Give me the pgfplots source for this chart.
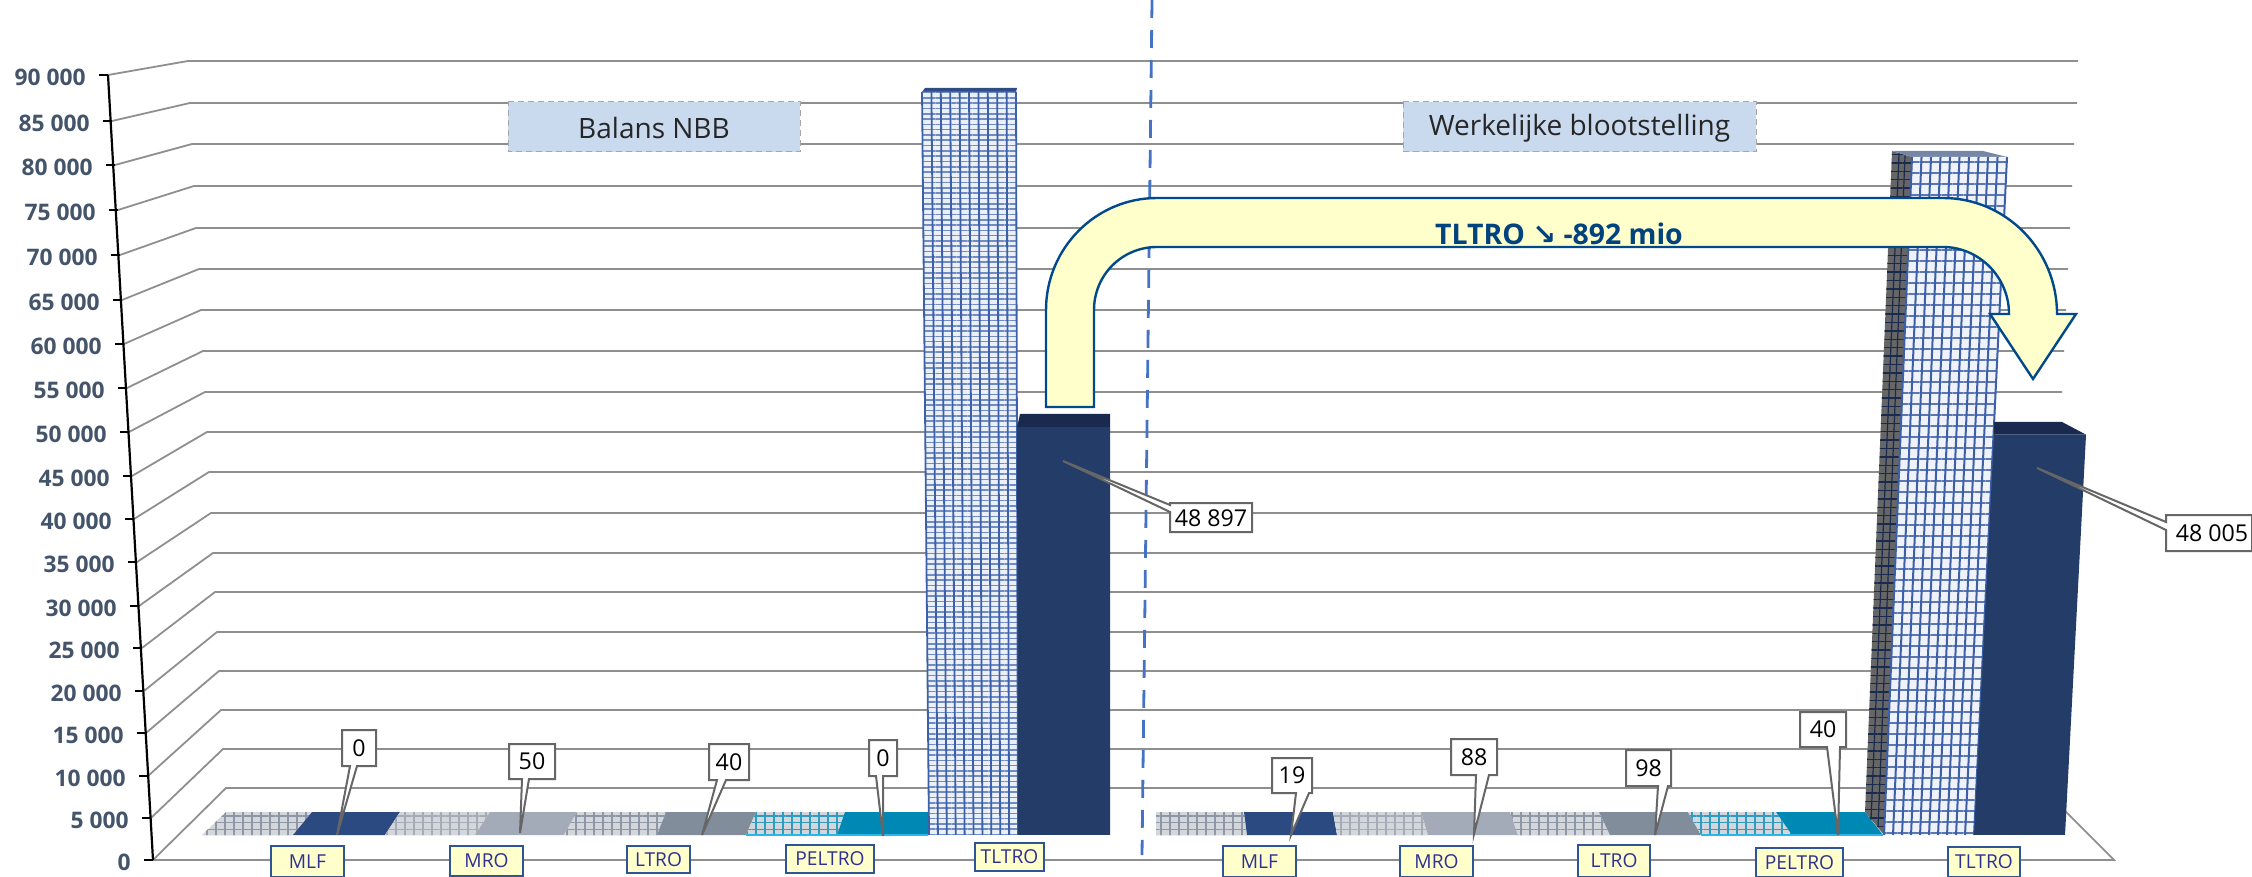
\documentclass[border=0pt]{standalone}
\usepackage{fontspec}
\setmainfont{Open Sans}
\newfontfamily\symfont{DejaVu Sans}
\usepackage{pgfplots}
\pgfplotsset{compat=1.18}
\usetikzlibrary{patterns.meta}
\definecolor{gridc}{HTML}{8F8F8F}
\definecolor{tickc}{HTML}{44546A}
\definecolor{mlfc}{HTML}{2B4A82}
\definecolor{mroc}{HTML}{A3ABB8}
\definecolor{ltroc}{HTML}{828D9B}
\definecolor{peltroc}{HTML}{0088B5}
\definecolor{peltrol}{HTML}{29B6E8}
\definecolor{darkbar}{HTML}{243C68}
\definecolor{darktop}{HTML}{1A2A4E}
\definecolor{meshc}{HTML}{3C5FA8}
\definecolor{meshl}{HTML}{6F8CC6}
\definecolor{arrowf}{HTML}{FFFFCC}
\definecolor{arrowd}{HTML}{004A8C}
\definecolor{catb}{HTML}{2F5597}
\definecolor{catt}{HTML}{2E3192}
\definecolor{titlef}{HTML}{C9D9EE}
\definecolor{dashc}{HTML}{4472C4}
\definecolor{callb}{HTML}{666666}
\definecolor{hatchg}{HTML}{8E97A5}
\definecolor{hatchp}{HTML}{2E9CC0}
\definecolor{cellg}{HTML}{D3D6DB}
\pgfplotsset{pix/.style={width=1126pt,height=438.5pt,scale only axis,hide axis,clip=false,
  xmin=0,xmax=2252,enlargelimits=false,at={(0,0)},anchor=south west},
  pixy/.style={pix,ymin=0,ymax=877,y dir=reverse},
  valy/.style={pix,ymin=-5036,ymax=100120}}
% value, front x, front y, back x, back y, right x
\newcommand{\gridl}[6]{%
  \addplot[draw=gridc,line width=.9pt] coordinates {(#2,#3)(#4,#5)(#6,#5)};
  \addplot[draw=black,line width=1.1pt] coordinates {(#2-9,#3)(#2,#3)};
  \node[anchor=east,inner sep=0pt,text=tickc,font=\fontsize{11.4}{12}\selectfont\bfseries] at (#2-22,#3+2) {#1};
}
\newcommand{\flatsolid}[5]{%
  \addplot[fill=#5,draw=none] coordinates {(#1,835)(#2,835)(#4,812)(#3,812)} -- cycle;
}
\newcommand{\flathatch}[6]{%
  \addplot[fill=#6,draw=none] coordinates {(#1,835)(#2,835)(#4,812)(#3,812)} -- cycle;
  \addplot[draw=none,pattern={Lines[angle=0,distance=3.4pt,line width=.85pt]},pattern color=#5] coordinates {(#1,835)(#2,835)(#4,812)(#3,812)} -- cycle;
  \addplot[draw=none,pattern={Lines[angle=90,distance=4.5pt,line width=.85pt]},pattern color=#5] coordinates {(#1,835)(#2,835)(#4,812)(#3,812)} -- cycle;
}
\newcommand{\callout}[9]{%
  \addplot[fill=white,draw=callb,line width=1pt] coordinates {(#1,#2)(#3,#2)(#3,#4)(#6,#4)(#7,#8)(#5,#4)(#1,#4)} -- cycle;
  \node[inner sep=0pt,font=\fontsize{11.6}{13}\selectfont] at ({(#1+#3)/2},{(#2+#4)/2}) {#9};
}
\newcommand{\catl}[5]{%
  \addplot[fill=arrowf,draw=catb,line width=.7pt] coordinates {(#1,#2)(#3,#2)(#3,#4)(#1,#4)} -- cycle;
  \node[inner sep=0pt,text=catt,font=\fontsize{9.6}{11}\selectfont] at ({(#1+#3)/2},{(#2+#4)/2}) {#5};
}
\newcommand{\titleb}[5]{%
  \addplot[fill=titlef,draw=gray!70,densely dashed,line width=.5pt] coordinates {(#1,#2)(#3,#2)(#3,#4)(#1,#4)} -- cycle;
  \node[inner sep=0pt,text=black!85,font=\fontsize{14}{16}\selectfont] at ({(#1+#3)/2},{(#2+#4)/2+1}) {#5};
}
\begin{document}
\begin{tikzpicture}
\useasboundingbox (0,0) rectangle (1126pt,438.5pt);
\begin{axis}[pixy]
\gridl{90 000}{108}{75}{188}{61}{2078}
\gridl{85 000}{112}{121}{190}{103}{2077}
\gridl{80 000}{115}{165}{192}{144}{2074}
\gridl{75 000}{118}{210}{194}{186}{2072}
\gridl{70 000}{120}{255}{196}{228}{2070}
\gridl{65 000}{122}{300}{199}{269}{2068}
\gridl{60 000}{124}{344}{201}{310}{2066}
\gridl{55 000}{127}{388}{203}{351}{2064}
\gridl{50 000}{129}{432}{205}{392}{2062}
\gridl{45 000}{132}{476}{207}{432}{2060}
\gridl{40 000}{134}{519}{209}{472}{2058}
\gridl{35 000}{137}{562}{211}{513}{2056}
\gridl{30 000}{139}{606}{213}{553}{2054}
\gridl{25 000}{142}{648}{215}{592}{2052}
\gridl{20 000}{144}{691}{217}{632}{2050}
\gridl{15 000}{146}{733}{219}{671}{2048}
\gridl{10 000}{148}{776}{221}{710}{2046}
\gridl{5 000}{151}{818}{223}{749}{2044}
\gridl{0}{153}{860}{226}{788}{2042}
\addplot[draw=gridc,line width=.9pt] coordinates {(153,860)(2114,860)(2042,788)};
\addplot[draw=black,line width=1.1pt] coordinates {(108,75)(153,860)};
\addplot[draw=dashc,line width=1.4pt,dash pattern=on 9pt off 6pt] coordinates {(1152,0)(1142,855)};
% flat bars, left group
\flathatch{202}{293}{226}{312}{hatchg}{cellg}
\flatsolid{293}{385}{312}{400}{mlfc}
\flathatch{385}{475}{400}{490}{hatchg!80}{cellg}
\flatsolid{475}{564}{490}{577}{mroc}
\flathatch{564}{657}{577}{666}{hatchg}{cellg}
\flatsolid{657}{746}{666}{756}{ltroc}
\flathatch{746}{837}{756}{845}{hatchp}{cellg}
\flatsolid{837}{928}{845}{928}{peltroc}
\addplot[draw=peltrol,line width=1pt] coordinates {(746,835)(928,835)};
% flat bars, right group
\flathatch{1156}{1247}{1156}{1244}{hatchg}{cellg}
\flatsolid{1247}{1337}{1244}{1333}{mlfc}
\flathatch{1337}{1428}{1333}{1421}{hatchg!80}{cellg}
\flatsolid{1428}{1518}{1421}{1510}{mroc}
\flathatch{1518}{1610}{1510}{1599}{hatchg}{cellg}
\flatsolid{1610}{1701}{1599}{1688}{ltroc}
\flathatch{1701}{1792}{1688}{1776}{hatchp}{cellg}
\flatsolid{1792}{1883}{1776}{1865}{peltroc}
\addplot[draw=peltrol,line width=1pt] coordinates {(1701,835)(1883,835)};
\end{axis}
\begin{axis}[valy]
% left hatched TLTRO (Balans NBB)
\addplot[fill=meshc!80!black,draw=none] coordinates {(925,89570)(1017,89570)(1016,89089)(922,89089)} -- cycle;
\addplot[fill=white!90!meshc,draw=none] coordinates {(929,0)(1018,0)(1016,89089)(922,89089)} -- cycle;
\addplot[draw=none,pattern={Lines[angle=0,distance=2.65pt,line width=.8pt]},pattern color=meshl] coordinates {(929,0)(1018,0)(1016,89089)(922,89089)} -- cycle;
\pgfplotsinvokeforeach{0,1,...,10}{
  \addplot[draw=meshc,line width=.9pt] coordinates {({929+8.9*#1},0)({922+9.4*#1},89089)};
}
% left dark TLTRO = 48 897
\addplot[fill=darktop,draw=none] coordinates {(1020,50480)(1110,50480)(1110,48897)(1017,48897)} -- cycle;
\addplot[fill=darkbar,draw=none] coordinates {(1018,0)(1110,0)(1110,48897)(1017,48897)} -- cycle;
% right hatched TLTRO (Werkelijke blootstelling)
\addplot[fill=gray!80!black,draw=none] coordinates {(1865,2758)(1884,0)(1912,81295)(1892,82014)} -- cycle;
\addplot[draw=none,pattern={Lines[angle=0,distance=4.2pt,line width=.7pt]},pattern color=darktop] coordinates {(1865,2758)(1884,0)(1912,81295)(1892,82014)} -- cycle;
\addplot[draw=darktop,line width=.6pt] coordinates {(1871,1840)(1899,81750)};
\addplot[draw=darktop,line width=.6pt] coordinates {(1878,920)(1905,81500)};
\addplot[fill=gray!45!meshl,draw=none] coordinates {(1892,82014)(1983,82014)(2007,81295)(1912,81295)} -- cycle;
\addplot[fill=white!92!meshc,draw=none] coordinates {(1884,0)(1974,0)(2007,81295)(1912,81295)} -- cycle;
\addplot[draw=none,pattern={Lines[angle=0,distance=5.5pt,line width=1pt]},pattern color=meshc!85] coordinates {(1884,0)(1974,0)(2007,81295)(1912,81295)} -- cycle;
\pgfplotsinvokeforeach{0,1,...,10}{
  \addplot[draw=meshc,line width=1pt] coordinates {({1884+9*#1},0)({1912+9.5*#1},81295)};
}
% right dark TLTRO = 48 005
\addplot[fill=darktop,draw=none] coordinates {(1994,49520)(2062,49520)(2086,48005)(1994,48005)} -- cycle;
\addplot[fill=darkbar,draw=none] coordinates {(1974,0)(2065,0)(2086,48005)(1994,48005)} -- cycle;
\end{axis}
\begin{axis}[pixy]
\titleb{508}{102}{800}{152}{Balans NBB}
\titleb{1403}{102}{1756}{152}{Werkelijke blootstelling}
\draw[fill=arrowf,draw=arrowd,line width=1.2pt,line join=miter]
  (1046,407) -- (1046,310) .. controls (1046,248) and (1096,198) .. (1157,198)
  -- (1943,198) .. controls (2006,198) and (2057,250) .. (2057,314)
  -- (2076,314) -- (2033,379) -- (1990,314) -- (2009,314)
  .. controls (2009,277) and (1979,247) .. (1943,247)
  -- (1157,247) .. controls (1122,247) and (1094,275) .. (1094,310)
  -- (1094,407) -- cycle;
\node[inner sep=0pt,text=arrowd!90!black,font=\fontsize{14.2}{16}\selectfont\bfseries] at (1559,234)
  {TLTRO {\symfont\bfseries ↘} -892 mio};
\callout{342}{730}{376}{766}{350}{357}{337}{835}{0}
\callout{509}{744}{555}{779}{522}{529}{520}{833}{50}
\callout{709}{744}{749}{780}{717}{726}{702}{835}{40}
\callout{869}{740}{897}{776}{876}{883}{883}{836}{0}
\callout{1272}{758}{1312}{793}{1296}{1309}{1291}{835}{19}
\callout{1451}{739}{1497}{775}{1476}{1489}{1474}{834}{88}
\callout{1626}{750}{1671}{786}{1658}{1668}{1655}{835}{98}
\callout{1800}{712}{1846}{747}{1827}{1840}{1838}{835}{40}
\addplot[fill=white,draw=callb,line width=1pt] coordinates {(1170,503)(1252,503)(1252,532)(1170,532)(1170,512)(1063,461)(1170,505)} -- cycle;
\node[inner sep=0pt,font=\fontsize{11.6}{13}\selectfont] at (1211,518) {48 897};
\addplot[fill=white,draw=callb,line width=1pt] coordinates {(2166,515)(2252,515)(2252,551)(2166,551)(2166,530)(2037,468)(2166,522)} -- cycle;
\node[inner sep=0pt,font=\fontsize{11.6}{13}\selectfont] at (2212,533) {48 005};
\catl{271}{846}{344}{877}{MLF}
\catl{450}{846}{523}{876}{MRO}
\catl{627}{846}{690}{873}{LTRO}
\catl{786}{845}{874}{873}{PELTRO}
\catl{975}{843}{1044}{871}{TLTRO}
\catl{1223}{846}{1296}{877}{MLF}
\catl{1400}{846}{1473}{877}{MRO}
\catl{1578}{845}{1650}{877}{LTRO}
\catl{1756}{848}{1843}{877}{PELTRO}
\catl{1948}{847}{2020}{877}{TLTRO}
\end{axis}
\end{tikzpicture}
\end{document}
